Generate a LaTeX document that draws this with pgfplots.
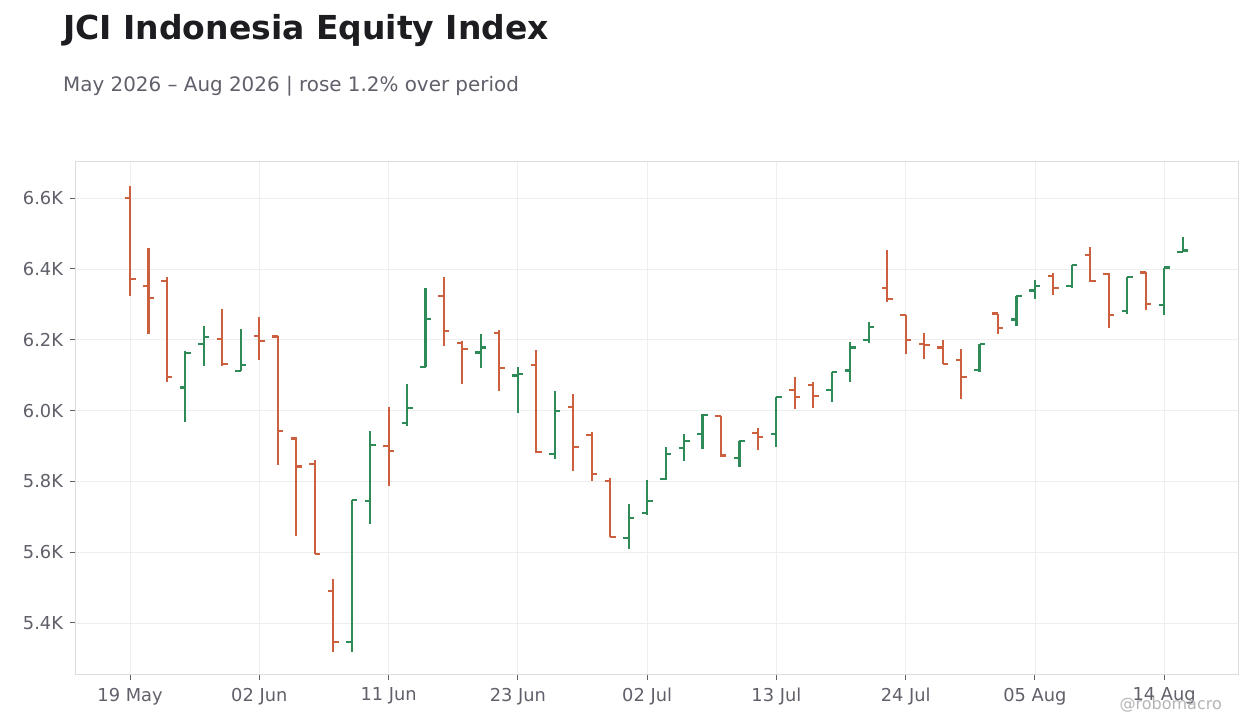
\documentclass[border=0pt]{standalone}
\usepackage{pgfplots}
\pgfplotsset{compat=1.18}
\usepackage{pgfplotstable}
\usepackage{fontspec}
\setmainfont{DejaVu Sans}
\definecolor{downc}{HTML}{CC5F3E}
\definecolor{upc}{HTML}{2E8B57}
\definecolor{ticktxt}{HTML}{5F606A}
\definecolor{titletxt}{HTML}{1C1C21}
\definecolor{gridc}{HTML}{EEEEEE}
\definecolor{framec}{HTML}{DCDCDC}
\definecolor{wm}{HTML}{B5B5B8}

\pgfdeclareplotmark{openL}{\pgfpathmoveto{\pgfpoint{-5.5bp}{0bp}}\pgfpathlineto{\pgfpoint{0bp}{0bp}}\pgfusepathqstroke}
\pgfdeclareplotmark{closeR}{\pgfpathmoveto{\pgfpoint{0bp}{0bp}}\pgfpathlineto{\pgfpoint{5.5bp}{0bp}}\pgfusepathqstroke}

\pgfplotstableread{
x o h l c
0 6600 6634 6324 6372
1 6351 6458 6216 6318
2 6366 6378 6080 6095
5 6202 6286 6126 6131
7 6211 6263 6143 6196
8 6209 6212 5845 5943
9 5921 5925 5647 5842
10 5848 5860 5595 5595
11 5489 5525 5319 5345
14 5900 6010 5786 5886
17 6323 6378 6181 6224
18 6192 6196 6076 6173
20 6218 6227 6054 6119
22 6129 6171 5879 5883
24 6010 6046 5830 5897
25 5930 5940 5802 5820
26 5801 5810 5643 5643
32 5984 5986 5870 5873
34 5937 5950 5889 5926
36 6059 6094 6005 6039
37 6071 6080 6008 6042
41 6347 6454 6308 6316
42 6269 6269 6161 6198
43 6188 6219 6147 6185
44 6178 6200 6132 6132
45 6142 6175 6032 6094
47 6274 6274 6215 6234
50 6381 6389 6325 6345
52 6440 6461 6364 6367
53 6385 6388 6232 6269
55 6390 6390 6284 6302
}\down

\pgfplotstableread{
x o h l c
3 6065 6169 5967 6162
4 6188 6238 6126 6208
6 6112 6229 6112 6128
12 5347 5748 5319 5748
13 5745 5943 5681 5903
15 5964 6076 5955 6008
16 6122 6347 6122 6258
19 6164 6217 6119 6178
21 6099 6123 5994 6102
23 5876 6055 5864 5999
27 5640 5737 5609 5696
28 5710 5804 5706 5744
29 5806 5898 5804 5877
30 5894 5935 5857 5915
31 5933 5989 5891 5987
33 5866 5915 5841 5915
35 5934 6039 5898 6039
38 6059 6110 6025 6110
39 6113 6193 6082 6178
40 6198 6251 6192 6235
46 6114 6187 6108 6187
48 6257 6323 6240 6323
49 6339 6368 6316 6353
51 6353 6410 6347 6410
54 6280 6376 6274 6376
56 6297 6404 6269 6404
57 6449 6490 6449 6452
}\up

\begin{document}
\begin{tikzpicture}
\path[use as bounding box] (0,0) rectangle (1260bp,728bp);
\fill[white] (0,0) rectangle (1260bp,728bp);
\node[anchor=base west, inner sep=0pt, text=titletxt, font=\fontsize{33bp}{39bp}\selectfont\bfseries] at (63bp,688bp) {JCI Indonesia Equity Index};
\node[anchor=base west, inner sep=0pt, text=ticktxt, font=\fontsize{19.9bp}{24bp}\selectfont] at (63bp,636bp) {May 2026 – Aug 2026 | rose 1.2\% over period};
\begin{axis}[
  at={(75bp,53bp)}, anchor=south west,
  scale only axis, width=1164bp, height=513bp,
  xmin=-2.98, xmax=60.05, ymin=5253, ymax=6702,
  xtick={0,7,14,21,28,35,42,49,56},
  xticklabels={19 May,02 Jun,11 Jun,23 Jun,02 Jul,13 Jul,24 Jul,05 Aug,14 Aug},
  ytick={5400,5600,5800,6000,6200,6400,6600},
  yticklabels={5.4K,5.6K,5.8K,6.0K,6.2K,6.4K,6.6K},
  tick align=outside, xtick pos=bottom, ytick pos=left,
  major tick length=5bp,
  tick style={color=ticktxt, line width=1bp},
  grid=major, major grid style={color=gridc, line width=0.8bp},
  axis line style={color=framec, line width=1bp},
  ticklabel style={font=\fontsize{17.8bp}{21bp}\selectfont, text=ticktxt},
  xticklabel style={yshift=-4.5bp},
  yticklabel style={xshift=-3.5bp},
  clip=false,
]
\addplot[draw=none, mark=none, forget plot, error bars/.cd, y dir=both, y explicit, error mark=none, error bar style={line width=2.1bp, color=downc}]
  table[x=x, y expr={(\thisrow{h}+\thisrow{l})/2}, y error expr={(\thisrow{h}-\thisrow{l})/2}] {\down};
\addplot[draw=none, mark=none, forget plot, error bars/.cd, y dir=both, y explicit, error mark=none, error bar style={line width=2.1bp, color=upc}]
  table[x=x, y expr={(\thisrow{h}+\thisrow{l})/2}, y error expr={(\thisrow{h}-\thisrow{l})/2}] {\up};
\addplot[only marks, mark=openL, mark options={draw=downc, line width=2.1bp}] table[x=x, y=o] {\down};
\addplot[only marks, mark=closeR, mark options={draw=downc, line width=2.1bp}] table[x=x, y=c] {\down};
\addplot[only marks, mark=openL, mark options={draw=upc, line width=2.1bp}] table[x=x, y=o] {\up};
\addplot[only marks, mark=closeR, mark options={draw=upc, line width=2.1bp}] table[x=x, y=c] {\up};
\end{axis}
\node[anchor=base east, inner sep=0pt, text=wm, font=\fontsize{16bp}{19bp}\selectfont] at (1222bp,19bp) {@robomacro};
\end{tikzpicture}
\end{document}
